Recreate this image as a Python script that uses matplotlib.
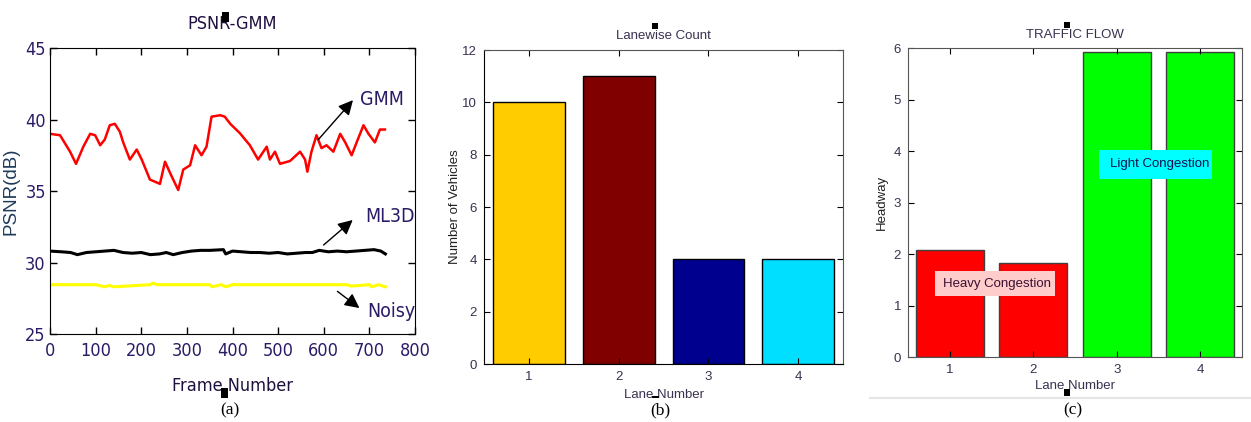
import numpy as np
import matplotlib.pyplot as plt
from matplotlib.lines import Line2D
from matplotlib.patches import Rectangle

# panel (a): PSNR curves
gmm_frames = [0, 22, 44, 57, 73, 88, 99, 110, 120, 131, 142, 153, 161, 175, 190, 201,
              219, 241, 252, 267, 281, 292, 307, 318, 332, 343, 354, 373, 383, 395,
              416, 438, 456, 475, 482, 493, 504, 526, 548, 559, 564, 573, 584, 595,
              606, 621, 636, 647, 661, 672, 687, 698, 712, 723, 734]
gmm_psnr = [39.0, 38.9, 37.75, 36.9, 38.1, 39.0, 38.9, 38.2, 38.6, 39.6, 39.7, 39.15,
            38.35, 37.2, 37.9, 37.2, 35.8, 35.5, 37.05, 36.0, 35.07, 36.5, 36.8, 38.2,
            37.5, 38.1, 40.2, 40.3, 40.2, 39.7, 39.05, 38.2, 37.2, 38.1, 37.2, 37.75,
            36.9, 37.1, 37.75, 37.2, 36.35, 37.75, 38.9, 38.0, 38.2, 37.75, 39.0, 38.4,
            37.5, 38.4, 39.6, 39.0, 38.4, 39.3, 39.3]

ml3d_frames = [0, 25, 45, 60, 80, 100, 120, 140, 160, 180, 200, 220, 240, 255, 270,
               290, 310, 330, 350, 380, 385, 400, 420, 440, 460, 480, 500, 520, 540,
               560, 575, 590, 610, 630, 650, 670, 690, 710, 725, 735]
ml3d_psnr = [30.8, 30.75, 30.7, 30.55, 30.7, 30.75, 30.8, 30.85, 30.7, 30.65, 30.7,
             30.55, 30.6, 30.7, 30.55, 30.7, 30.8, 30.85, 30.85, 30.9, 30.6, 30.8,
             30.75, 30.7, 30.7, 30.65, 30.7, 30.6, 30.65, 30.7, 30.7, 30.85, 30.75,
             30.8, 30.75, 30.8, 30.85, 30.9, 30.8, 30.6]

noisy_frames = [0, 100, 120, 130, 140, 220, 225, 235, 350, 355, 375, 385, 400, 500,
                650, 660, 700, 705, 720, 735]
noisy_psnr = [28.45, 28.45, 28.3, 28.4, 28.3, 28.45, 28.55, 28.45, 28.45, 28.3, 28.45,
              28.3, 28.45, 28.45, 28.45, 28.35, 28.45, 28.3, 28.45, 28.3]

# panel (b): lanewise count
lanes = [1, 2, 3, 4]
vehicles = [10, 11, 4, 4]
lane_colors = ['#ffcc00', '#800000', '#00008f', '#00dfff']

# panel (c): headway
headway = [2.08, 1.82, 5.93, 5.92]
flow_colors = ['#ff0000', '#ff0000', '#00ff00', '#00ff00']

plt.rcParams['font.family'] = ['Liberation Sans', 'DejaVu Sans']
narrow = dict(family='DejaVu Sans', stretch='condensed')
txt_a = '#2b1b66'
txt_b = '#3a3050'

fig = plt.figure(figsize=(12.51, 4.22), dpi=100)

# ---- (a)
ax1 = fig.add_axes([0.03997, 0.2085, 0.2918, 0.6777])
ax1.plot(noisy_frames, noisy_psnr, color='#ffff00', lw=2.2)
ax1.plot(ml3d_frames, ml3d_psnr, color='black', lw=2.2)
ax1.plot(gmm_frames, gmm_psnr, color='red', lw=1.8)
ax1.set_xlim(0, 800)
ax1.set_ylim(25, 45)
ax1.set_xticks(range(0, 801, 100))
ax1.set_yticks(range(25, 46, 5))
ax1.tick_params(direction='in', top=True, right=True, length=5, width=1)
ax1.tick_params(axis='x', pad=6)
ax1.tick_params(axis='y', pad=3)
for lab in ax1.get_xticklabels() + ax1.get_yticklabels():
    lab.set_family(narrow['family'])
    lab.set_stretch(narrow['stretch'])
    lab.set_fontsize(13)
    lab.set_color(txt_a)
ax1.set_title('PSNR-GMM', fontsize=13, color='#201040', pad=14, **narrow)
ax1.set_xlabel('Frame Number', fontsize=13, color='#201040', labelpad=12, **narrow)
ax1.set_ylabel('PSNR(dB)', fontsize=13.5, color='#1f3a5a')
ax1.yaxis.set_label_coords(-0.084, 0.5)
for s in ax1.spines.values():
    s.set_color('black')

arrow = dict(arrowstyle='-|>', color='black', lw=1, mutation_scale=22)
ax1.annotate('', xy=(668, 41.5), xytext=(584, 38.45), arrowprops=arrow)
ax1.annotate('', xy=(668, 33.1), xytext=(595, 31.1), arrowprops=arrow)
ax1.annotate('', xy=(683, 26.7), xytext=(625, 28.1), arrowprops=arrow)
ax1.text(680, 41.4, 'GMM', fontsize=14, color=txt_a, va='center', **narrow)
ax1.text(690, 33.2, 'ML3D', fontsize=14, color=txt_a, va='center', **narrow)
ax1.text(695, 26.6, 'Noisy', fontsize=14, color=txt_a, va='center', **narrow)

# ---- (b)
ax2 = fig.add_axes([0.3869, 0.1374, 0.287, 0.744])
ax2.bar(lanes, vehicles, width=0.8, color=lane_colors, edgecolor='black', lw=1)
ax2.set_xlim(0.5, 4.5)
ax2.set_ylim(0, 12)
ax2.set_xticks(lanes)
ax2.set_yticks(range(0, 13, 2))
ax2.tick_params(direction='in', top=True, right=True, length=4, labelsize=9.5,
                labelcolor=txt_b, pad=5)
ax2.set_title('Lanewise Count', fontsize=9.5, color=txt_b, pad=8)
ax2.set_xlabel('Lane Number', fontsize=9.5, color=txt_b, labelpad=4)
ax2.set_ylabel('Number of Vehicles', fontsize=9.5, color='#202020', labelpad=1)
for k in ['top', 'right']:
    ax2.spines[k].set_color('#555555')

# ---- (c)
ax3 = fig.add_axes([0.7258, 0.154, 0.267, 0.7322])
ax3.bar(lanes, headway, width=0.81, color=flow_colors, edgecolor='#404040', lw=1)
ax3.set_xlim(0.5, 4.5)
ax3.set_ylim(0, 6)
ax3.set_xticks(lanes)
ax3.set_yticks(range(0, 7))
ax3.tick_params(direction='in', top=True, right=True, length=4, labelsize=9.5,
                labelcolor=txt_b, pad=5)
ax3.set_title('TRAFFIC FLOW', fontsize=9.5, color=txt_b, pad=7)
ax3.set_xlabel('Lane Number', fontsize=9.5, color=txt_b, labelpad=3)
ax3.set_ylabel('Headway', fontsize=9.5, color='#202020', labelpad=4)
for s in ax3.spines.values():
    s.set_color('#555555')
ax3.add_patch(Rectangle((0.82, 1.18), 1.44, 0.49, facecolor='#ffcccc',
                        edgecolor='none', zorder=3))
ax3.text(0.92, 1.42, 'Heavy Congestion', fontsize=9.5, color='#3a1030',
         va='center', zorder=4)
ax3.add_patch(Rectangle((2.79, 3.46), 1.35, 0.56, facecolor='#00ffff',
                        edgecolor='none', zorder=3))
ax3.text(2.92, 3.74, 'Light Congestion', fontsize=9.5, color='#101050',
         va='center', zorder=4)

# captions
for x, cap in [(230, '(a)'), (660, '(b)'), (1073, '(c)')]:
    fig.text(x / 1251, 1 - 410 / 422, cap, family='Liberation Serif',
             fontsize=12.5, ha='center', va='center')
fig.add_artist(Line2D([870 / 1251, 1], [1 - 398 / 422] * 2, color='#e6e6e6', lw=1.5))

# small black marks from the scanned original
for x, y, w, h in [(222, 12, 7, 10), (221, 388, 7, 10), (652, 23, 6, 6),
                   (1064, 22, 6, 6), (1064, 389, 6, 7), (652, 396, 7, 2)]:
    fig.add_artist(Rectangle((x / 1251, 1 - (y + h) / 422), w / 1251, h / 422,
                             facecolor='black', edgecolor='none'))

fig.savefig('out.png', dpi=100)
